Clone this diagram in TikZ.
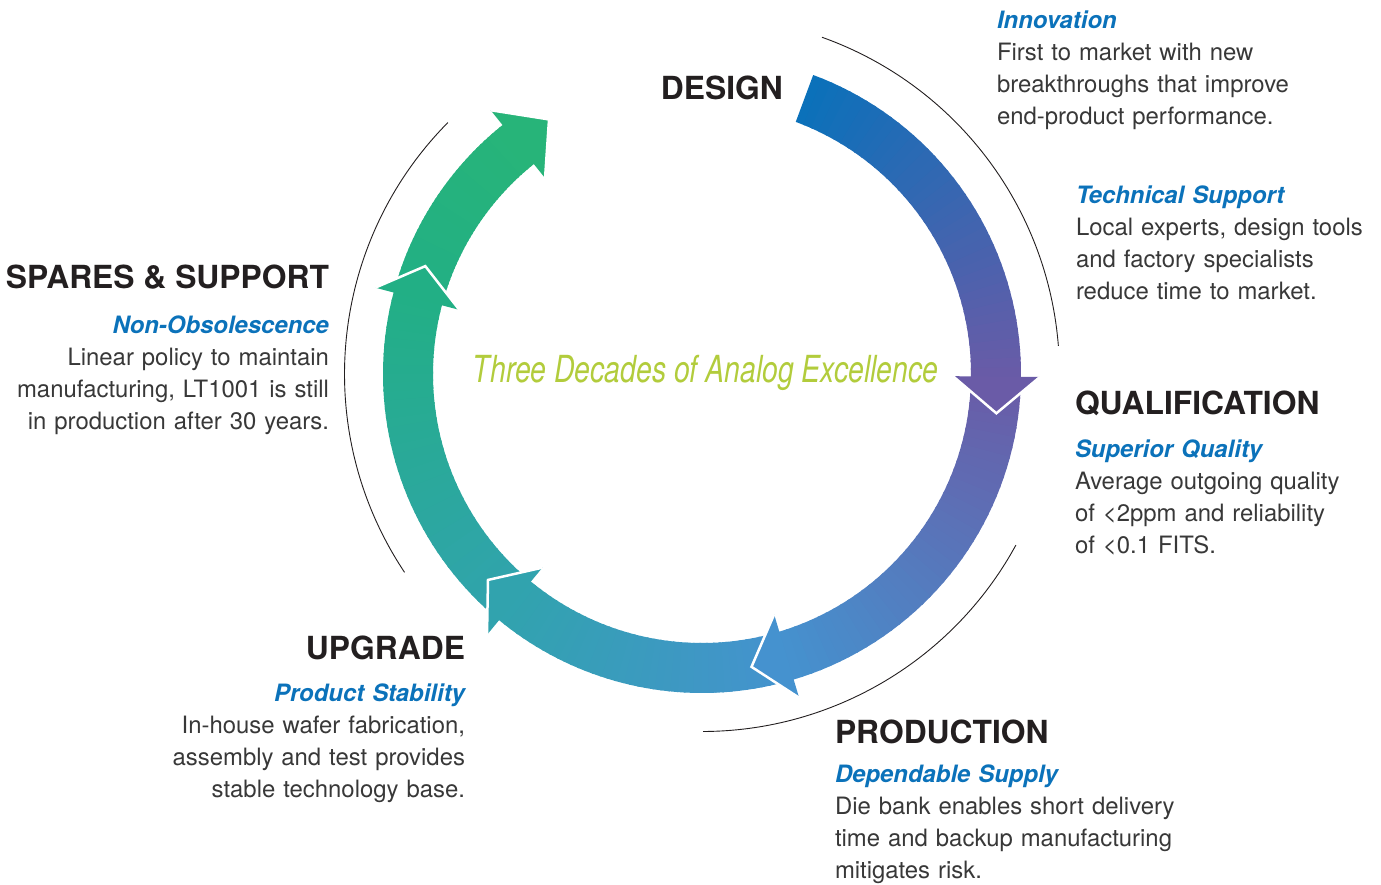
\documentclass[tikz,border=0pt]{standalone}
\usepackage{fontspec}
\setmainfont{TeX Gyre Heros}
\newfontfamily\condfont[FakeStretch=0.76]{TeX Gyre Heros}
\usepackage{tikz}
\usetikzlibrary{positioning}
\usepackage{xcolor}
\definecolor{headgray}{HTML}{231F20}
\definecolor{bodygray}{HTML}{383838}
\definecolor{subblue}{HTML}{0B72BA}
\definecolor{titlegreen}{HTML}{B2CC3C}
\definecolor{ringA}{HTML}{0A71BA}
\definecolor{ringB}{HTML}{6A5BA7}
\definecolor{ringC}{HTML}{4592CF}
\definecolor{ringD}{HTML}{31A3AE}
\definecolor{ringE}{HTML}{22AF85}
\definecolor{ringF}{HTML}{27B479}
\newcommand{\subtag}[1]{{\color{subblue}\bfseries\itshape #1}}

\begin{document}
\begin{tikzpicture}[
  x=1pt, y=1pt,
  headstyle/.style={inner sep=0, outer sep=0, text=headgray, font=\fontsize{31.8}{36}\selectfont\bfseries},
  lblockstyle/.style={inner sep=0, outer sep=0, text=bodygray, text width=340pt, align=left, font=\fontsize{23.9}{32}\selectfont},
  rblockstyle/.style={lblockstyle, align=right},
  titlestyle/.style={inner sep=0, outer sep=0, text=titlegreen, font=\condfont\itshape\fontsize{37.3}{40}\selectfont},
  arcstyle/.style={draw=headgray, line width=0.9pt},
  tipstyle/.style={draw=white, line width=2.5pt}
]
  \useasboundingbox (-702,-510) rectangle (679,374);

  % ring segments, shaded slice by slice
  \foreach \sa/\se/\ca/\cb in {69.6/-0.5/ringA/ringB, -0.5/-73.3/ringB/ringC,
      -73.3/-129.5/ringC/ringD, -129.5/-194.8/ringD/ringE, -194.8/-231.3/ringE/ringF}{
    \foreach \i in {1,...,40}{
      \pgfmathsetmacro\ta{\sa+(\se-\sa)*(\i-1)/40}
      \pgfmathsetmacro\tb{\sa+(\se-\sa)*\i/40-0.4}
      \pgfmathtruncatemacro\pc{100*(\i-0.5)/40}
      \fill[fill=\cb!\pc!\ca] (\ta:319) arc[start angle=\ta, end angle=\tb, radius=319]
        -- (\tb:269) arc[start angle=\tb, end angle=\ta, radius=269] -- cycle;
    }
  }

  % arrow heads
  \foreach \se/\st/\cb in {-0.5/-7.6/ringB, -73.3/-80.4/ringC, -129.5/-136.1/ringD,
      -194.8/-201.3/ringE, -231.3/-239/ringF}{
    \fill[\cb] (\se:338) -- (\st:297) -- (\se:251) -- cycle;
    \draw[tipstyle] (\se:338) -- (\st:297) -- (\se:251);
  }

  % thin outer arcs
  \draw[arcstyle] (70.4:357.5) arc[start angle=70.4, end angle=4.5, radius=357.5];
  \draw[arcstyle] (-28.6:357.5) arc[start angle=-28.6, end angle=-89.8, radius=357.5];
  \draw[arcstyle] (135.3:357.5) arc[start angle=135.3, end angle=213.7, radius=357.5];

  \node[titlestyle, anchor=base west] (TITLE) at (-229,-8)
    {Three Decades of Analog Excellence};

  \node[headstyle, anchor=base west] (DESIGN) at (-41,274)
    {DESIGN};
  \node[lblockstyle, anchor=base west] (INNOV) at (295,345)
    {\subtag{Innovation}\\First to market with new\\breakthroughs that improve\\end-product performance.};
  \node[lblockstyle, anchor=base west] (TECH) at (374,171)
    {\subtag{Technical Support}\\Local experts, design tools\\and factory specialists\\reduce time to market.};

  \node[headstyle, anchor=base west] (QUAL) at (373,-40)
    {QUALIFICATION};
  \node[lblockstyle, below=43pt of QUAL.base west, anchor=base west] (QUALTXT)
    {\subtag{Superior Quality}\\Average outgoing quality\\of <2ppm and reliability\\of <0.1 FITS.};

  \node[headstyle, anchor=base west] (PROD) at (133,-369)
    {PRODUCTION};
  \node[lblockstyle, below=39pt of PROD.base west, anchor=base west] (PRODTXT)
    {\subtag{Dependable Supply}\\Die bank enables short delivery\\time and backup manufacturing\\mitigates risk.};

  \node[headstyle, anchor=base east] (UPG) at (-237,-285)
    {UPGRADE};
  \node[rblockstyle, below=42pt of UPG.base east, anchor=base east] (UPGTXT)
    {\subtag{Product Stability}\\In-house wafer fabrication,\\assembly and test provides\\stable technology base.};

  \node[headstyle, anchor=base east] (SPARE) at (-373,86)
    {SPARES \& SUPPORT};
  \node[rblockstyle, below=45pt of SPARE.base east, anchor=base east] (SPARETXT)
    {\subtag{Non-Obsolescence}\\Linear policy to maintain\\manufacturing, LT1001 is still\\in production after 30 years.};
\end{tikzpicture}
\end{document}
